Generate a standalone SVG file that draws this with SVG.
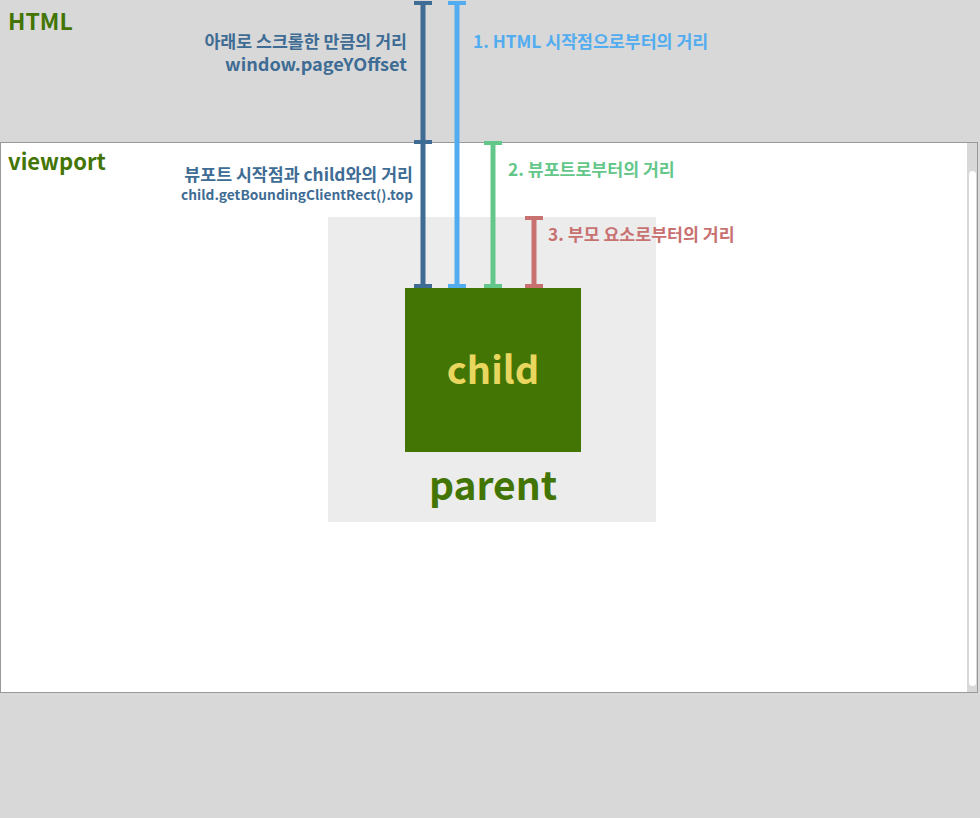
<svg xmlns="http://www.w3.org/2000/svg" width="980" height="818" viewBox="0 0 980 818">
<style>
text{font-family:"Noto Sans CJK KR","Noto Sans",sans-serif;font-weight:bold}
.g{fill:#437504}
.db{fill:#3e6c94}
.lb{fill:#52acf0}
.gr{fill:#64c78a}
.rd{fill:#c87171}
.l{stroke-width:5;fill:none}
</style>
<rect x="0" y="0" width="980" height="818" fill="#d8d8d8"/>
<g id="html">
<text x="8" y="30" font-size="23" class="g">HTML</text>
</g>
<g id="viewport">
<rect x="0.5" y="142.5" width="977" height="550" fill="#ffffff" stroke="#999999" stroke-width="1"/>
<rect x="967" y="143" width="10" height="549" fill="#d8d8d8"/>
<rect x="969" y="171" width="7" height="515" rx="3.5" fill="#ffffff"/>
<text x="8" y="170" font-size="22" class="g">viewport</text>
</g>
<g id="parent">
<rect x="328" y="217" width="328" height="305" fill="#ececec"/>
<text x="493" y="500" font-size="39" text-anchor="middle" class="g">parent</text>
</g>
<g id="child">
<rect x="405" y="288" width="176" height="164" fill="#437504"/>
<text x="493" y="384" font-size="38" text-anchor="middle" fill="#e8d65e">child</text>
</g>
<g id="connectors">
<line x1="423" y1="3" x2="423" y2="286" stroke="#3e6c94" class="l"/>
<g fill="#3e6c94">
<rect x="414" y="1" width="18" height="4"/>
<rect x="414" y="140" width="18" height="4"/>
<rect x="414" y="284" width="18" height="4"/>
</g>
<line x1="457" y1="3" x2="457" y2="286" stroke="#52acf0" class="l"/>
<g fill="#52acf0">
<rect x="448" y="1" width="18" height="4"/>
<rect x="448" y="284" width="18" height="4"/>
</g>
<line x1="493" y1="143" x2="493" y2="286" stroke="#64c78a" class="l"/>
<g fill="#64c78a">
<rect x="484" y="141" width="18" height="4"/>
<rect x="484" y="284" width="18" height="4"/>
</g>
<line x1="534" y1="218" x2="534" y2="286" stroke="#c87171" class="l"/>
<g fill="#c87171">
<rect x="525" y="216" width="18" height="4"/>
<rect x="525" y="284" width="18" height="4"/>
</g>
</g>
<g id="labels">
<text x="407" y="48" font-size="17.3" text-anchor="end" class="db">아래로 스크롤한 만큼의 거리</text>
<text x="225" y="71" font-size="17.5" textLength="182" lengthAdjust="spacingAndGlyphs" class="db">window.pageYOffset</text>
<text x="413" y="181" font-size="17.3" text-anchor="end" class="db">뷰포트 시작점과 child와의 거리</text>
<text x="181" y="200" font-size="13.5" textLength="232" lengthAdjust="spacingAndGlyphs" class="db">child.getBoundingClientRect().top</text>
<text x="473" y="48" font-size="17.3" class="lb">1. HTML 시작점으로부터의 거리</text>
<text x="508" y="176" font-size="17.3" class="gr">2. 뷰포트로부터의 거리</text>
<text x="548" y="241" font-size="17.3" class="rd">3. 부모 요소로부터의 거리</text>
</g>
</svg>
